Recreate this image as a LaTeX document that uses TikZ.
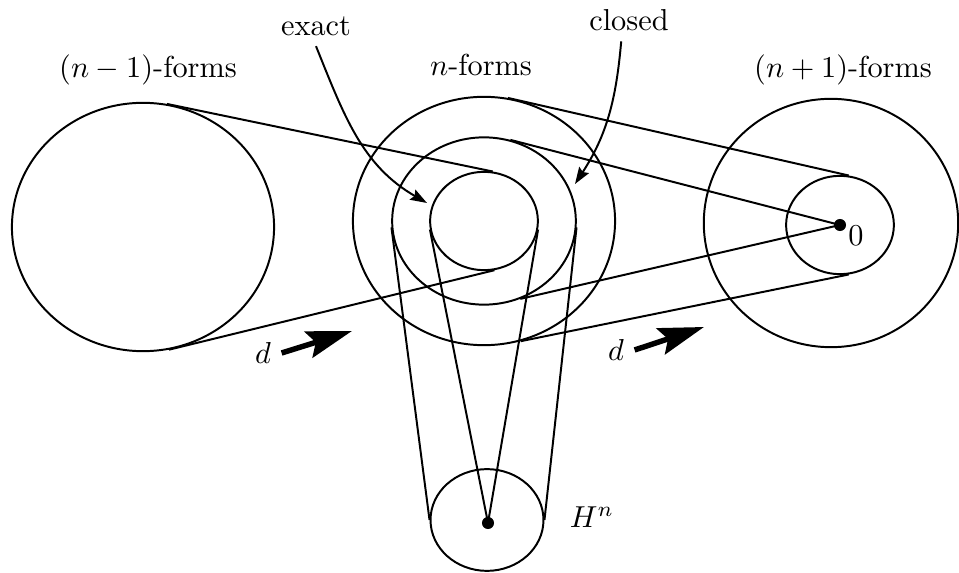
\documentclass[tikz,border=0pt]{standalone}
\usepackage{amsmath}
\usepackage{tikz}
\usetikzlibrary{shapes.geometric,arrows.meta}

\begin{document}
\begin{tikzpicture}[
  x=0.0116cm, y=0.0116cm,
  oval/.style={ellipse, draw, line width=0.65pt, inner sep=0pt},
  big/.style={oval, minimum width=3.04cm, minimum height=2.88cm},
  ring/.style={oval, minimum width=2.13cm, minimum height=1.94cm},
  core/.style={oval, minimum width=1.25cm, minimum height=1.14cm},
  dotn/.style={circle, fill, inner sep=0pt, minimum size=0.14cm},
  belt/.style={line width=0.65pt},
  ptr/.style={-{Stealth[length=5.5pt, width=3.8pt, inset=0.8pt]}, line width=0.65pt},
  darr/.style={-{Stealth[length=15pt, width=9pt, inset=2.5pt]}, line width=1.8pt}
]
\useasboundingbox (0,0) rectangle (959,573);

\node[big]  (lft)  at (143,346) {};
\node[big]  (nbig) at (484,352) {};
\node[ring] (ncl)  at (484,352) {};
\node[core] (nex)  at (484,352) {};
\node[big, minimum width=2.95cm] (rbig) at (831,350) {};
\node[core] (rsm)  at (840,348) {};
\node[oval, minimum width=1.31cm, minimum height=1.18cm] (hc) at (487,53) {};
\node[dotn] (zdot) at (840,348) {};
\node[dotn] (hdot) at (488,50) {};

\node (lfm) at (148,503) {$(n-1)$-forms};
\node (nfm) at (481,508) {$n$-forms};
\node (rfm) at (843,503) {$(n+1)$-forms};
\node (ex)  at (316,547) {exact};
\node (cl)  at (629,553) {closed};
\node (zl)  at (856,337) {$0$};
\node (hl)  at (592,56)  {$H^n$};
\node (dl)  at (263,220) {$d$};
\node (dr)  at (616,223) {$d$};

\coordinate (exTip) at (427,370);
\coordinate (clTip) at (575,389);
\coordinate (dTipL) at (352,242);
\coordinate (dTipR) at (704,246);

\draw[belt] (lft.79)  -- (nex.80);
\draw[belt] (lft.-78) -- (nex.-78);
\draw[belt] (nbig.79) -- (rsm.80);
\draw[belt] (nbig.-73) -- (rsm.-80);
\draw[belt] (ncl.72)  -- (zdot.center);
\draw[belt] (ncl.-65) -- (zdot.center);
\draw[belt] (ncl.184) -- (hc.west);
\draw[belt] (ncl.-4)  -- (hc.east);
\draw[belt] (nex.189) -- (hdot.center);
\draw[belt] (nex.-9)  -- (hdot.center);

\draw[ptr] (ex.south) to[out=-68, in=150] (exTip);
\draw[ptr] (cl.250) to[out=-95, in=57] (clTip);
\draw[darr] (dl.east) -- (dTipL);
\draw[darr] (dr.east) -- (dTipR);
\end{tikzpicture}
\end{document}
